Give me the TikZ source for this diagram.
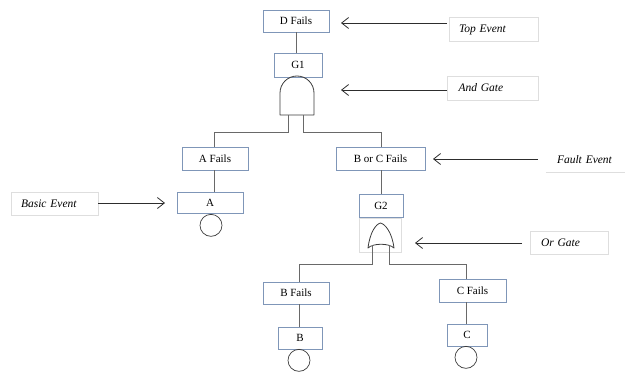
\documentclass[tikz,border=0pt]{standalone}
\usepackage{fontspec}
\setmainfont{Liberation Serif}
\usetikzlibrary{arrows.meta}
\definecolor{boxc}{RGB}{127,150,184}
\definecolor{linec}{RGB}{105,105,105}
\definecolor{gatec}{RGB}{60,60,60}
\definecolor{arrc}{RGB}{45,45,45}
\definecolor{framec}{RGB}{222,222,222}
\begin{document}
\begin{tikzpicture}[x=1pt,y=-1pt,
  evbox/.style={draw=boxc, line width=0.8pt, fill=white, inner sep=0pt,
    minimum height=22pt, font=\fontsize{11}{13}\selectfont},
  lblbox/.style={draw=framec, line width=0.7pt, inner ysep=0pt, inner xsep=10pt,
    minimum height=24pt, text width=#1, align=left,
    font=\fontsize{11.5}{13}\selectfont\itshape},
  conn/.style={draw=linec, line width=0.8pt},
  gateln/.style={draw=gatec, line width=0.8pt, line join=round},
  basic/.style={draw=gatec, line width=0.7pt},
  arr/.style={draw=arrc, line width=0.8pt, -{Straight Barb[length=7pt,width=11pt]}}]
\useasboundingbox (0,0) rectangle (625,372);

% event boxes
\node[evbox, minimum width=66pt] (dfails)  at (296,21)    {D Fails};
\node[evbox, minimum width=48pt, minimum height=24pt] (g1) at (298,65) {G1};
\node[evbox, minimum width=66pt, minimum height=23pt] (afails) at (215,158.5) {A Fails};
\node[evbox, minimum width=89pt, minimum height=23pt] (bcfails) at (380.5,158.5) {B or C Fails};
\node[evbox, minimum width=66pt, minimum height=21pt] (a) at (210,202.5) {A};
\node[evbox, minimum width=44pt, minimum height=23pt] (g2) at (381,205.5) {G2};
\node[evbox, minimum width=66pt] (bfails) at (296,293) {B Fails};
\node[evbox, minimum width=67pt, minimum height=23pt] (cfails) at (472.5,290.5) {C Fails};
\node[evbox, minimum width=44pt] (b) at (300,338) {B};
\node[evbox, minimum width=40pt] (c) at (467,335) {C};

% basic event circles
\node[basic, circle, minimum size=22pt, inner sep=0pt, anchor=north] (ca) at (211,214) {};
\node[basic, circle, minimum size=22pt, inner sep=0pt, anchor=north] (cb) at (299,349) {};
\node[basic, circle, minimum size=22pt, inner sep=0pt, anchor=north] (cc) at (466,346) {};

% AND gate G1 (y axis points down, so the dome sweeps through 270 degrees)
\draw[gateln] (280,115) -- (280,93) arc[start angle=180, end angle=360, radius=17] -- (314,115) -- cycle;
\coordinate (g1l) at (288,115);
\coordinate (g1r) at (303,115);

% OR gate G2 with its light frame
\draw[framec, line width=0.6pt] (359,218) rectangle (401,252);
\draw[gateln] (368,248) .. controls (370,232) and (376,224) .. (380.5,223)
  .. controls (385,224) and (392,232) .. (394,248)
  .. controls (389,243) and (373,243) .. cycle;
\coordinate (g2l) at (372,245);
\coordinate (g2r) at (389,245);

% connectors
\draw[conn] (dfails.south -| 296,0) -- (g1.north -| 296,0);
\draw[conn] (g1l) -- ++(0,17) -| (afails.north -| 214,0);
\draw[conn] (g1r) -- ++(0,17) -| (bcfails.north -| 381,0);
\draw[conn] (afails.south -| 214,0) -- (a.north -| 214,0);
\draw[conn] (bcfails.south -| 381,0) -- (g2.north -| 381,0);
\draw[conn] (g2l) -- ++(0,19) -| (bfails.north -| 299,0);
\draw[conn] (g2r) -- ++(0,19) -| (cfails.north -| 466,0);
\draw[conn] (bfails.south -| 299,0) -- (b.north -| 299,0);
\draw[conn] (cfails.south -| 466,0) -- (c.north -| 466,0);

% explanatory labels
\node[lblbox=69pt] (topev)   at (493.5,29.5) {Top Event};
\node[lblbox=69pt, inner xsep=11pt] (andg) at (493,88) {And Gate};
\node[lblbox=58pt, draw=none, inner xsep=11pt, minimum height=25pt] (faultev) at (586,159.5) {Fault Event};
\draw[framec, line width=0.7pt] (faultev.south west) -- (faultev.south east);
\node[lblbox=56pt, inner xsep=11pt, minimum height=23pt] (org) at (569,242.5) {Or Gate};
\node[lblbox=67pt, minimum height=23pt] (basicev) at (54.5,203.5) {Basic Event};

% pointer arrows
\coordinate (topS) at (447,23);   \coordinate (topT) at (341,23);
\coordinate (andS) at (447,90);   \coordinate (andT) at (341,90);
\coordinate (fltS) at (538,159);  \coordinate (fltT) at (433,159);
\coordinate (orS)  at (522,243);  \coordinate (orT)  at (415,243);
\coordinate (basT) at (165,203);
\draw[arr] (topS) -- (topT);
\draw[arr] (andS) -- (andT);
\draw[arr] (fltS) -- (fltT);
\draw[arr] (orS) -- (orT);
\draw[arr] (basicev.east |- basT) -- (basT);
\end{tikzpicture}
\end{document}
